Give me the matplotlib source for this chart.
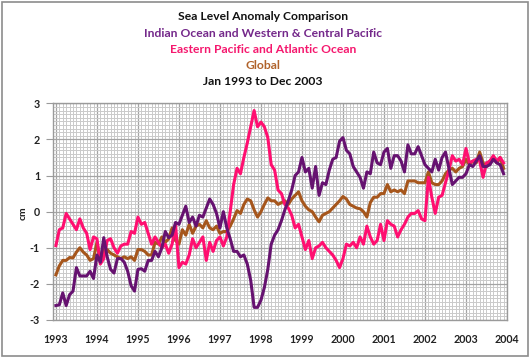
import matplotlib
matplotlib.use("Agg")
import matplotlib.pyplot as plt
from matplotlib.patches import Rectangle
from matplotlib.ticker import MultipleLocator, FixedLocator
import numpy as np

# Monthly values, Jan 1993 .. Dec 2003 (cm)
indian_wpac = [
    -2.6, -2.58, -2.25, -2.6, -2.3, -2.2, -1.55, -1.78, -1.78, -1.78, -1.65, -1.85,
    -1.2, -1.4, -0.72, -1.25, -1.6, -1.7, -1.3, -1.3, -1.4, -1.65, -2.05, -2.2,
    -1.6, -1.58, -1.65, -1.35, -1.35, -1.1, -1.25, -1.0, -0.55, -0.72, -0.65, -0.3,
    -0.35, -0.1, 0.15, -0.3, -0.15, -0.4, -0.1, -0.15, 0.1, 0.35, 0.2, -0.05,
    -0.45, 0.0, -0.45, -0.75, -1.1, -1.1, -1.25, -1.2, -1.45, -1.9, -2.65, -2.65,
    -2.45, -2.1, -1.6, -0.9, -0.65, -0.5, -0.25, 0.05, 0.3, 0.6, 1.0, 1.1,
    1.5, 1.1, 1.2, 0.65, 1.25, 0.45, 0.8, 0.75, 1.15, 1.45, 1.5, 1.95,
    2.05, 1.7, 1.6, 1.25, 1.1, 0.95, 0.65, 1.1, 1.05, 1.65, 1.35, 1.3,
    1.65, 1.75, 1.2, 1.55, 1.55, 1.4, 1.1, 1.85, 1.6, 1.6, 1.8, 1.55,
    1.3, 1.2, 1.1, 1.45, 1.15, 1.5, 1.65, 1.2, 0.75, 0.85, 0.95, 0.95,
    1.05, 1.3, 1.25, 1.4, 1.55, 1.25, 1.25, 1.3, 1.45, 1.35, 1.3, 1.05,
]
east_pac_atl = [
    -0.94, -0.5, -0.45, -0.05, -0.2, -0.35, -0.5, -0.2, -0.45, -0.6, -1.05, -0.7,
    -0.75, -1.45, -1.3, -0.8, -0.75, -1.0, -1.15, -0.95, -0.9, -0.9, -0.55, -0.6,
    -0.15, -0.35, -0.3, -0.6, -0.9, -0.7, -0.85, -1.0, -0.9, -1.15, -0.9, -0.35,
    -1.55, -1.4, -1.45, -1.2, -0.75, -1.0, -0.85, -0.7, -1.35, -0.85, -1.1, -0.8,
    -0.7, -0.95, -0.7, 0.0, 0.75, 1.2, 1.05, 1.5, 1.9, 2.35, 2.8, 2.35,
    2.48, 2.35, 2.05, 1.3, 1.15, 0.6, 0.5, 0.2, 0.1, -0.1, -0.45, -0.35,
    -0.7, -1.05, -0.8, -1.3, -1.0, -0.95, -0.85, -1.0, -1.1, -1.2, -1.35, -1.55,
    -1.3, -0.9, -0.95, -0.85, -1.0, -0.7, -0.9, -0.4, -0.7, -0.9, -0.8, -0.35,
    -0.8, -0.25, -0.35, -0.4, -0.7, -0.5, -0.35, -0.15, -0.05, -0.05, 0.03, -0.2,
    -0.25, 0.95, 0.4, -0.05, 0.4, 0.45, 0.8, 1.15, 1.55, 1.4, 1.45, 1.3,
    1.75, 1.35, 1.4, 1.45, 1.4, 0.95, 1.35, 1.4, 1.55, 1.4, 1.5, 1.35,
]
global_msl = [
    -1.75, -1.5, -1.35, -1.35, -1.27, -1.28, -1.12, -1.0, -1.12, -1.2, -1.35, -1.3,
    -0.85, -1.35, -1.05, -1.05, -1.15, -1.2, -1.25, -1.3, -1.25, -1.3, -1.25, -1.35,
    -1.05, -1.05, -1.1, -1.2, -1.2, -0.85, -0.9, -0.7, -0.85, -0.75, -0.45, -0.8,
    -0.9, -0.5, -0.65, -0.35, -0.6, -0.4, -0.35, -0.45, -0.25, -0.45, -0.5, -0.4,
    -0.6, -0.55, -0.55, -0.4, -0.2, 0.03, -0.05, 0.2, 0.35, 0.3, 0.05, -0.15,
    0.0, 0.2, 0.38, 0.3, 0.3, 0.2, 0.25, 0.3, 0.2, 0.35, 0.45, 0.55,
    0.3, 0.15, 0.05, 0.0, -0.15, -0.28, -0.1, -0.05, 0.0, 0.1, 0.2, 0.3,
    0.42, 0.35, 0.2, 0.15, 0.1, 0.08, 0.0, -0.15, 0.25, 0.4, 0.4, 0.5,
    0.5, 0.75, 0.55, 0.6, 0.55, 0.6, 0.5, 0.85, 0.85, 0.85, 0.8, 0.8,
    0.8, 1.1, 0.8, 0.75, 0.75, 0.85, 1.05, 1.15, 1.2, 1.1, 1.2, 1.25,
    1.45, 1.3, 1.4, 1.35, 1.65, 1.35, 1.25, 1.4, 1.5, 1.35, 1.5, 1.2,
]
year_labels = ["1993", "1994", "1995", "1996", "1997", "1998", "1999",
               "2000", "2001", "2002", "2003", "2004"]
y_ticks = [-3, -2, -1, 0, 1, 2, 3]

title_lines = [
    ("Sea Level Anomaly Comparison", "#111111"),
    ("Indian Ocean and Western & Central Pacific", "#74288A"),
    ("Eastern Pacific and Atlantic Ocean", "#F5186E"),
    ("Global", "#B0622A"),
    ("Jan 1993 to Dec 2003", "#111111"),
]

C_PURPLE = "#661270"
C_PINK = "#FF0F70"
C_BROWN = "#A6561C"

W, H = 530, 357
fig = plt.figure(figsize=(W / 100, H / 100), dpi=100)
fig.patch.set_facecolor("white")
FONT = ["Lato", "DejaVu Sans"]

# outer frame
fig.add_artist(Rectangle((1.5 / W, 1.5 / H), (W - 3.5) / W, (H - 3.5) / H,
                         transform=fig.transFigure, fill=False,
                         edgecolor="#8c8c8c", lw=1.2))

ax_l, ax_r, ax_t, ax_b = 52.5, 507, 103.3, 320
ax = fig.add_axes([ax_l / W, 1 - ax_b / H, (ax_r - ax_l) / W, (ax_b - ax_t) / H])

months = np.arange(len(indian_wpac))
ax.plot(months, global_msl, color=C_BROWN, lw=2.2, zorder=3)
ax.plot(months, east_pac_atl, color=C_PINK, lw=2.2, zorder=4)
ax.plot(months, indian_wpac, color=C_PURPLE, lw=2.2, zorder=5)

ax.set_xlim(-1.0, 132)
ax.set_ylim(-3, 3)
year_pos = [12 * i for i in range(len(year_labels))]
ax.xaxis.set_major_locator(FixedLocator(year_pos))
ax.set_xticklabels(year_labels)
ax.xaxis.set_minor_locator(MultipleLocator(1))
ax.yaxis.set_major_locator(FixedLocator(y_ticks))
ax.set_yticklabels([str(v) for v in y_ticks])
ax.yaxis.set_minor_locator(MultipleLocator(0.1))

ax.grid(which="minor", color="#cacaca", lw=0.7)
ax.grid(which="major", color="#a4a4a4", lw=0.9)
ax.set_axisbelow(True)
for s in ax.spines.values():
    s.set_color("#9a9a9a")
    s.set_linewidth(1.0)

ax.tick_params(which="minor", length=0)
ax.tick_params(axis="y", which="major", length=5, color="#9a9a9a", pad=4)
ax.tick_params(axis="x", which="major", length=0, pad=10)
for lab in ax.get_xticklabels() + ax.get_yticklabels():
    lab.set_fontfamily(FONT)
    lab.set_fontweight("bold")
    lab.set_fontsize(7.7)
    lab.set_color("#222222")

fig.text(23 / W, 1 - 213 / H, "cm", rotation=90, ha="center", va="center",
         fontfamily=FONT, fontweight="bold", fontsize=7.5, color="#222222")

ys = [16.7, 33.3, 49.3, 65.7, 81.7]
for (txt, col), y in zip(title_lines, ys):
    fig.text(263 / W, 1 - y / H, txt, ha="center", va="center",
             fontfamily=FONT, fontweight="bold", fontsize=8.7, color=col)

fig.savefig("out.png", dpi=100, facecolor="white")
